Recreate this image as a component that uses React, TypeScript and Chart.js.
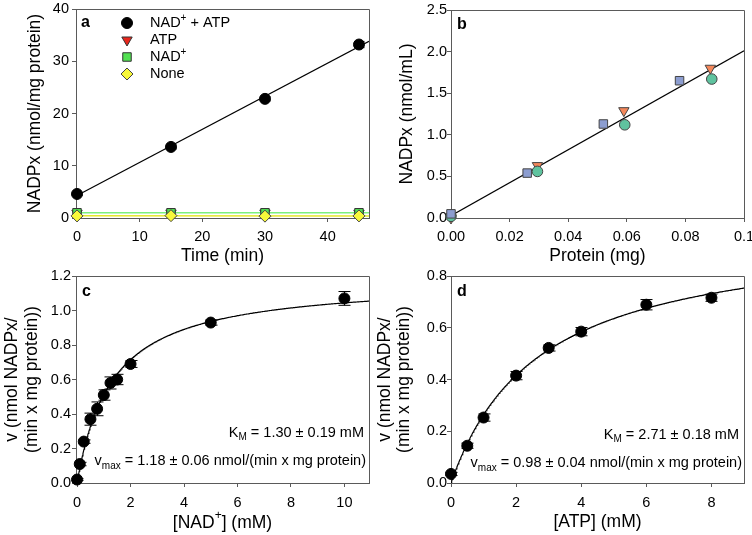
import React, { useEffect, useRef } from 'react';
import { Chart, registerables } from 'chart.js';

Chart.register(...registerables);

const W = 752;
const H = 535;
const SANS = '"Liberation Sans", Arial, Helvetica, sans-serif';
const FRAME = '#5a5a5a';
const TICK_SIZE = 14.5;
const TITLE_SIZE = 17.5;
const TITLE_LH = 19.6;
const LETTER_SIZE = 16;

// ---- a: NADPx formed over time ----
const timeMin = [0, 15, 30, 45];
const nadAtp = [4.6, 13.6, 22.8, 33.2];
const nadAtpErr = [0.3, 0.4, 0.4, 0.6];
const atpOnly = [0.9, 0.95, 0.95, 0.9];
const nadOnly = [1.0, 1.0, 1.0, 1.0];
const noneAdded = [0.4, 0.45, 0.35, 0.4];
const timeTicks = [0, 10, 20, 30, 40];
const timeLabels = ['0', '10', '20', '30', '40'];
const nadpxTicksA = [0, 10, 20, 30, 40];
const nadpxLabelsA = ['0', '10', '20', '30', '40'];

// ---- b: NADPx vs protein amount ----
const proteinSq = [0, 0.026, 0.052, 0.078];
const nadpxSq = [0.05, 0.54, 1.13, 1.65];
const proteinTri = [0, 0.0295, 0.059, 0.0885];
const nadpxTri = [0.0, 0.63, 1.29, 1.8];
const proteinCirc = [0, 0.0295, 0.0593, 0.089];
const nadpxCirc = [0.02, 0.56, 1.12, 1.67];
const proteinTicks = [0, 0.02, 0.04, 0.06, 0.08, 0.1];
const proteinLabels = ['0.00', '0.02', '0.04', '0.06', '0.08', '0.1'];
const nadpxTicksB = [0, 0.5, 1, 1.5, 2, 2.5];
const nadpxLabelsB = ['0.0', '0.5', '1.0', '1.5', '2.0', '2.5'];

// ---- c: rate vs [NAD+] ----
const nadConc = [0, 0.1, 0.25, 0.5, 0.75, 1.0, 1.25, 1.5, 2, 5, 10];
const rateNad = [0.02, 0.11, 0.24, 0.37, 0.43, 0.51, 0.58, 0.6, 0.69, 0.93, 1.07];
const rateNadErr = [0.005, 0.01, 0.01, 0.035, 0.04, 0.03, 0.035, 0.03, 0.02, 0.015, 0.04];
const KM_NAD = 1.3;
const KM_NAD_SE = 0.19;
const VMAX_NAD = 1.18;
const VMAX_NAD_SE = 0.06;
const nadTicks = [0, 2, 4, 6, 8, 10];
const nadLabels = ['0', '2', '4', '6', '8', '10'];
const rateTicksC = [0, 0.2, 0.4, 0.6, 0.8, 1.0, 1.2];
const rateLabelsC = ['0.0', '0.2', '0.4', '0.6', '0.8', '1.0', '1.2'];

// ---- d: rate vs [ATP] ----
const atpConc = [0, 0.5, 1, 2, 3, 4, 6, 8];
const rateAtp = [0.035, 0.144, 0.253, 0.415, 0.522, 0.585, 0.689, 0.716];
const rateAtpErr = [0.006, 0.01, 0.014, 0.016, 0.012, 0.016, 0.02, 0.014];
const KM_ATP = 2.71;
const KM_ATP_SE = 0.18;
const VMAX_ATP = 0.98;
const VMAX_ATP_SE = 0.04;
const atpTicks = [0, 2, 4, 6, 8];
const atpLabels = ['0', '2', '4', '6', '8'];
const rateTicksD = [0, 0.2, 0.4, 0.6, 0.8];
const rateLabelsD = ['0.0', '0.2', '0.4', '0.6', '0.8'];

type Pt = { x: number; y: number };
const zip = (xs: number[], ys: number[]): Pt[] => xs.map((x, i) => ({ x, y: ys[i] }));

function linFit(xs: number[], ys: number[]) {
  const n = xs.length;
  const mx = xs.reduce((a, b) => a + b, 0) / n;
  const my = ys.reduce((a, b) => a + b, 0) / n;
  let sxy = 0;
  let sxx = 0;
  for (let i = 0; i < n; i++) {
    sxy += (xs[i] - mx) * (ys[i] - my);
    sxx += (xs[i] - mx) * (xs[i] - mx);
  }
  const slope = sxx ? sxy / sxx : 0;
  return { slope, intercept: my - slope * mx };
}

function fitLine(xs: number[], ys: number[], x0: number, x1: number): Pt[] {
  const f = linFit(xs, ys);
  return [
    { x: x0, y: f.intercept + f.slope * x0 },
    { x: x1, y: f.intercept + f.slope * x1 },
  ];
}

// Michaelis-Menten curve for the fitted constants
function mmCurve(vmax: number, km: number, xEnd: number, step: number): Pt[] {
  const pts: Pt[] = [];
  for (let s = 0; s <= xEnd + 1e-9; s += step) pts.push({ x: s, y: (vmax * s) / (km + s) });
  return pts;
}

function marker(
  ctx: CanvasRenderingContext2D,
  shape: string,
  x: number,
  y: number,
  r: number,
  fill: string,
  stroke: string
) {
  ctx.save();
  ctx.beginPath();
  if (shape === 'circle') ctx.arc(x, y, r, 0, Math.PI * 2);
  else if (shape === 'rect') {
    const s = r * Math.SQRT1_2;
    ctx.rect(x - s, y - s, 2 * s, 2 * s);
  } else if (shape === 'rectRot') {
    ctx.moveTo(x, y - r);
    ctx.lineTo(x + r, y);
    ctx.lineTo(x, y + r);
    ctx.lineTo(x - r, y);
    ctx.closePath();
  } else if (shape === 'triDown') {
    const a = Math.PI / 6;
    ctx.moveTo(x, y + r);
    ctx.lineTo(x - r * Math.cos(a), y - r * Math.sin(a));
    ctx.lineTo(x + r * Math.cos(a), y - r * Math.sin(a));
    ctx.closePath();
  }
  ctx.fillStyle = fill;
  ctx.fill();
  ctx.strokeStyle = stroke;
  ctx.lineWidth = 1;
  ctx.stroke();
  ctx.restore();
}

type Seg = { t: string; size?: number; dy?: number; bold?: boolean };
function richText(
  ctx: CanvasRenderingContext2D,
  segs: Seg[],
  x: number,
  y: number,
  align: 'left' | 'right' | 'center',
  base = 14
) {
  ctx.save();
  ctx.textBaseline = 'middle';
  ctx.textAlign = 'left';
  ctx.fillStyle = '#000';
  const fontOf = (s: Seg) => `${s.bold ? 'bold ' : ''}${s.size ?? base}px ${SANS}`;
  let total = 0;
  const widths = segs.map((s) => {
    ctx.font = fontOf(s);
    const w = ctx.measureText(s.t).width;
    total += w;
    return w;
  });
  let cx = align === 'right' ? x - total : align === 'center' ? x - total / 2 : x;
  segs.forEach((s, i) => {
    ctx.font = fontOf(s);
    ctx.fillText(s.t, cx, y + (s.dy ?? 0));
    cx += widths[i];
  });
  ctx.restore();
}

interface AxisSpec {
  min: number;
  max: number;
  ticks: number[];
  labels: string[];
  title: string | string[] | null;
  pad: number;
}

interface PanelSpec {
  area: [number, number, number, number];
  yTitleX: number;
  xTitleY: number;
  x: AxisSpec;
  y: AxisSpec;
  datasets: any[];
  errors: { ds: number; err: number[]; cap: number }[];
  extras: (ctx: CanvasRenderingContext2D, chart: Chart) => void;
}

const pointSet = (data: Pt[], style: string, r: number, fill: string, stroke: string, order: number, rot = 0) => ({
  data,
  pointStyle: style,
  pointRotation: rot,
  pointRadius: r,
  pointBackgroundColor: fill,
  pointBorderColor: stroke,
  pointBorderWidth: 1,
  showLine: false,
  clip: false,
  order,
});

const lineSet = (data: Pt[], color: string, width: number, order: number) => ({
  type: 'line',
  data,
  borderColor: color,
  borderWidth: width,
  pointRadius: 0,
  showLine: true,
  fill: false,
  tension: 0,
  order,
});

const rateTitle = ['v (nmol NADPx/', '(min x mg protein))'];

const PANELS: PanelSpec[] = [
  {
    area: [76, 9, 369, 218],
    yTitleX: 35,
    xTitleY: 256,
    x: { min: -0.16, max: 46.6, ticks: timeTicks, labels: timeLabels, title: 'Time (min)', pad: 6 },
    y: { min: 0, max: 40, ticks: nadpxTicksA, labels: nadpxLabelsA, title: 'NADPx (nmol/mg protein)', pad: 3 },
    datasets: [
      lineSet(fitLine(timeMin, nadAtp, 0, 46.6), '#000', 1.2, 10),
      lineSet(fitLine(timeMin, nadOnly, -0.16, 46.6), '#7cf07c', 1.5, 11),
      lineSet(fitLine(timeMin, noneAdded, -0.16, 46.6), '#e6e62a', 1.5, 12),
      pointSet(zip(timeMin, atpOnly), 'triangle', 6, '#e8261c', '#333', 4, 180),
      pointSet(zip(timeMin, nadOnly), 'rect', 6, '#52e052', '#333', 3),
      pointSet(zip(timeMin, noneAdded), 'rectRot', 6, '#f8f83a', '#444', 2),
      pointSet(zip(timeMin, nadAtp), 'circle', 5.5, '#000', '#000', 1),
    ],
    errors: [{ ds: 6, err: nadAtpErr, cap: 5 }],
    extras: (ctx) => {
      richText(ctx, [{ t: 'a', bold: true, size: LETTER_SIZE }], 81, 23, 'left');
      const rows: [string, string, string, Seg[]][] = [
        ['circle', '#000', '#000', [{ t: 'NAD' }, { t: '+', size: 10, dy: -5 }, { t: ' + ATP' }]],
        ['triDown', '#e8261c', '#333', [{ t: 'ATP' }]],
        ['rect', '#52e052', '#333', [{ t: 'NAD' }, { t: '+', size: 10, dy: -5 }]],
        ['rectRot', '#f8f83a', '#444', [{ t: 'None' }]],
      ];
      const ys = [23, 40, 57, 74];
      rows.forEach((r, i) => {
        marker(ctx, r[0], 127, ys[i], r[0] === 'circle' ? 5.5 : 6, r[1], r[2]);
        richText(ctx, r[3], 150, ys[i], 'left', 14.5);
      });
    },
  },
  {
    area: [451, 10, 744, 218],
    yTitleX: 407,
    xTitleY: 256,
    x: { min: 0, max: 0.1, ticks: proteinTicks, labels: proteinLabels, title: 'Protein (mg)', pad: 6 },
    y: { min: 0, max: 2.5, ticks: nadpxTicksB, labels: nadpxLabelsB, title: 'NADPx (nmol/mL)', pad: 0 },
    datasets: [
      lineSet(
        fitLine(
          [...proteinSq, ...proteinTri, ...proteinCirc],
          [...nadpxSq, ...nadpxTri, ...nadpxCirc],
          0,
          0.1
        ),
        '#000',
        1.2,
        10
      ),
      pointSet(zip(proteinTri, nadpxTri), 'triangle', 6, '#f4875a', '#444', 3, 180),
      pointSet(zip(proteinCirc, nadpxCirc), 'circle', 5.3, '#5fc39f', '#444', 2),
      pointSet(zip(proteinSq, nadpxSq), 'rect', 6, '#8c9dd0', '#444', 1),
    ],
    errors: [],
    extras: (ctx) => {
      richText(ctx, [{ t: 'b', bold: true, size: LETTER_SIZE }], 457, 25, 'left');
    },
  },
  {
    area: [76, 276, 369, 483],
    yTitleX: 12.5,
    xTitleY: 523,
    x: { min: -0.04, max: 10.92, ticks: nadTicks, labels: nadLabels, title: null, pad: 7 },
    y: { min: 0, max: 1.2, ticks: rateTicksC, labels: rateLabelsC, title: rateTitle, pad: 1 },
    datasets: [
      lineSet(mmCurve(VMAX_NAD, KM_NAD, 10.92, 0.02), '#000', 1.2, 10),
      pointSet(zip(nadConc, rateNad), 'circle', 5.5, '#000', '#000', 1),
    ],
    errors: [{ ds: 1, err: rateNadErr, cap: 6 }],
    extras: (ctx, chart) => {
      const a = chart.chartArea;
      richText(ctx, [{ t: 'c', bold: true, size: LETTER_SIZE }], 82, 292, 'left');
      richText(
        ctx,
        [{ t: '[NAD' }, { t: '+', size: 12, dy: -7 }, { t: '] (mM)' }],
        (a.left + a.right) / 2,
        523,
        'center',
        TITLE_SIZE
      );
      richText(
        ctx,
        [{ t: 'K' }, { t: 'M', size: 10, dy: 4.5 }, { t: ` = ${KM_NAD.toFixed(2)} ± ${KM_NAD_SE.toFixed(2)} mM` }],
        364,
        433,
        'right',
        14.5
      );
      richText(
        ctx,
        [
          { t: 'v' },
          { t: 'max', size: 10, dy: 5 },
          { t: ` = ${VMAX_NAD.toFixed(2)} ± ${VMAX_NAD_SE.toFixed(2)} nmol/(min x mg protein)` },
        ],
        366,
        461,
        'right',
        14.5
      );
    },
  },
  {
    area: [451, 276, 744, 483],
    yTitleX: 385,
    xTitleY: 522,
    x: { min: 0, max: 9, ticks: atpTicks, labels: atpLabels, title: '[ATP] (mM)', pad: 7 },
    y: { min: 0, max: 0.8, ticks: rateTicksD, labels: rateLabelsD, title: rateTitle, pad: 0 },
    datasets: [
      lineSet(mmCurve(VMAX_ATP, KM_ATP, 9, 0.02), '#000', 1.2, 10),
      pointSet(zip(atpConc, rateAtp), 'circle', 5.5, '#000', '#000', 1),
    ],
    errors: [{ ds: 1, err: rateAtpErr, cap: 6 }],
    extras: (ctx) => {
      richText(ctx, [{ t: 'd', bold: true, size: LETTER_SIZE }], 457, 292, 'left');
      richText(
        ctx,
        [{ t: 'K' }, { t: 'M', size: 10, dy: 4.5 }, { t: ` = ${KM_ATP.toFixed(2)} ± ${KM_ATP_SE.toFixed(2)} mM` }],
        739,
        435,
        'right',
        14.5
      );
      richText(
        ctx,
        [
          { t: 'v' },
          { t: 'max', size: 10, dy: 5 },
          { t: ` = ${VMAX_ATP.toFixed(2)} ± ${VMAX_ATP_SE.toFixed(2)} nmol/(min x mg protein)` },
        ],
        742,
        463,
        'right',
        14.5
      );
    },
  },
];

function scaleOpts(a: AxisSpec, axis: 'x' | 'y', size: number) {
  return {
    type: 'linear',
    position: axis === 'x' ? 'bottom' : 'left',
    min: a.min,
    max: a.max,
    grid: {
      display: true,
      drawOnChartArea: false,
      drawTicks: true,
      tickLength: 4,
      tickWidth: 1,
      tickColor: FRAME,
      color: FRAME,
      lineWidth: 1,
    },
    border: { display: true, color: FRAME, width: 1 },
    ticks: {
      padding: a.pad,
      color: '#000',
      font: { family: SANS, size: TICK_SIZE },
      autoSkip: false,
      maxRotation: 0,
      minRotation: 0,
      includeBounds: false,
      callback: (_v: number, i: number) => a.labels[i] ?? '',
    },
    afterBuildTicks: (scale: any) => {
      scale.ticks = a.ticks.map((v) => ({ value: v }));
    },
    title: a.title
      ? {
          display: true,
          text: a.title,
          color: '#000',
          font: { family: SANS, size: TITLE_SIZE, lineHeight: TITLE_LH / TITLE_SIZE },
          padding: 0,
        }
      : { display: false },
    afterFit: (scale: any) => {
      if (axis === 'x') scale.height = size;
      else scale.width = size;
      scale.paddingLeft = 0;
      scale.paddingRight = 0;
      scale.paddingTop = 0;
      scale.paddingBottom = 0;
    },
  };
}

function panelPlugin(p: PanelSpec) {
  return {
    id: 'panelExtras',
    beforeDatasetsDraw(chart: Chart) {
      const ctx = chart.ctx;
      const a = chart.chartArea;
      const al = (v: number) => Math.round(v - 0.5) + 0.5;
      ctx.save();
      ctx.strokeStyle = FRAME;
      ctx.lineWidth = 1;
      ctx.beginPath();
      ctx.moveTo(al(a.left), al(a.top));
      ctx.lineTo(al(a.right), al(a.top));
      ctx.lineTo(al(a.right), al(a.bottom));
      ctx.stroke();
      ctx.restore();

      const xs = chart.scales.x;
      const ys = chart.scales.y;
      ctx.save();
      ctx.strokeStyle = '#000';
      ctx.lineWidth = 1;
      for (const e of p.errors) {
        const data = chart.data.datasets[e.ds].data as Pt[];
        data.forEach((pt, i) => {
          const px = Math.round(xs.getPixelForValue(pt.x)) + 0.5;
          const y1 = ys.getPixelForValue(pt.y - e.err[i]);
          const y2 = ys.getPixelForValue(pt.y + e.err[i]);
          ctx.beginPath();
          ctx.moveTo(px, y1);
          ctx.lineTo(px, y2);
          ctx.moveTo(px - e.cap, y1);
          ctx.lineTo(px + e.cap, y1);
          ctx.moveTo(px - e.cap, y2);
          ctx.lineTo(px + e.cap, y2);
          ctx.stroke();
        });
      }
      ctx.restore();
    },
    afterDatasetsDraw(chart: Chart) {
      p.extras(chart.ctx, chart);
    },
  };
}

function buildChart(canvas: HTMLCanvasElement, p: PanelSpec) {
  const [L, T, R, B] = p.area;
  const yLeft = p.yTitleX - TITLE_LH / 2;
  const xBottom = p.xTitleY + TITLE_LH / 2;
  return new Chart(canvas, {
    type: 'scatter',
    data: { datasets: p.datasets },
    options: {
      animation: false,
      responsive: false,
      devicePixelRatio: 1,
      events: [],
      layout: { padding: { left: yLeft, top: T, right: W - R, bottom: H - xBottom } },
      plugins: {
        legend: { display: false },
        tooltip: { enabled: false },
        title: { display: false },
      },
      scales: {
        x: scaleOpts(p.x, 'x', xBottom - B),
        y: scaleOpts(p.y, 'y', L - yLeft),
      },
    } as any,
    plugins: [panelPlugin(p)],
  } as any);
}

export default function App() {
  const r0 = useRef<HTMLCanvasElement>(null);
  const r1 = useRef<HTMLCanvasElement>(null);
  const r2 = useRef<HTMLCanvasElement>(null);
  const r3 = useRef<HTMLCanvasElement>(null);
  const refs = [r0, r1, r2, r3];

  useEffect(() => {
    const charts = PANELS.map((p, i) => buildChart(refs[i].current as HTMLCanvasElement, p));
    return () => charts.forEach((c) => c.destroy());
  }, []);

  return (
    <div
      style={{
        position: 'absolute',
        left: 0,
        top: 0,
        width: W,
        height: H,
        overflow: 'hidden',
        background: '#fff',
      }}
    >
      {refs.map((r, i) => (
        <canvas
          key={i}
          ref={r}
          width={W}
          height={H}
          style={{ position: 'absolute', left: 0, top: 0, width: W, height: H }}
        />
      ))}
    </div>
  );
}
